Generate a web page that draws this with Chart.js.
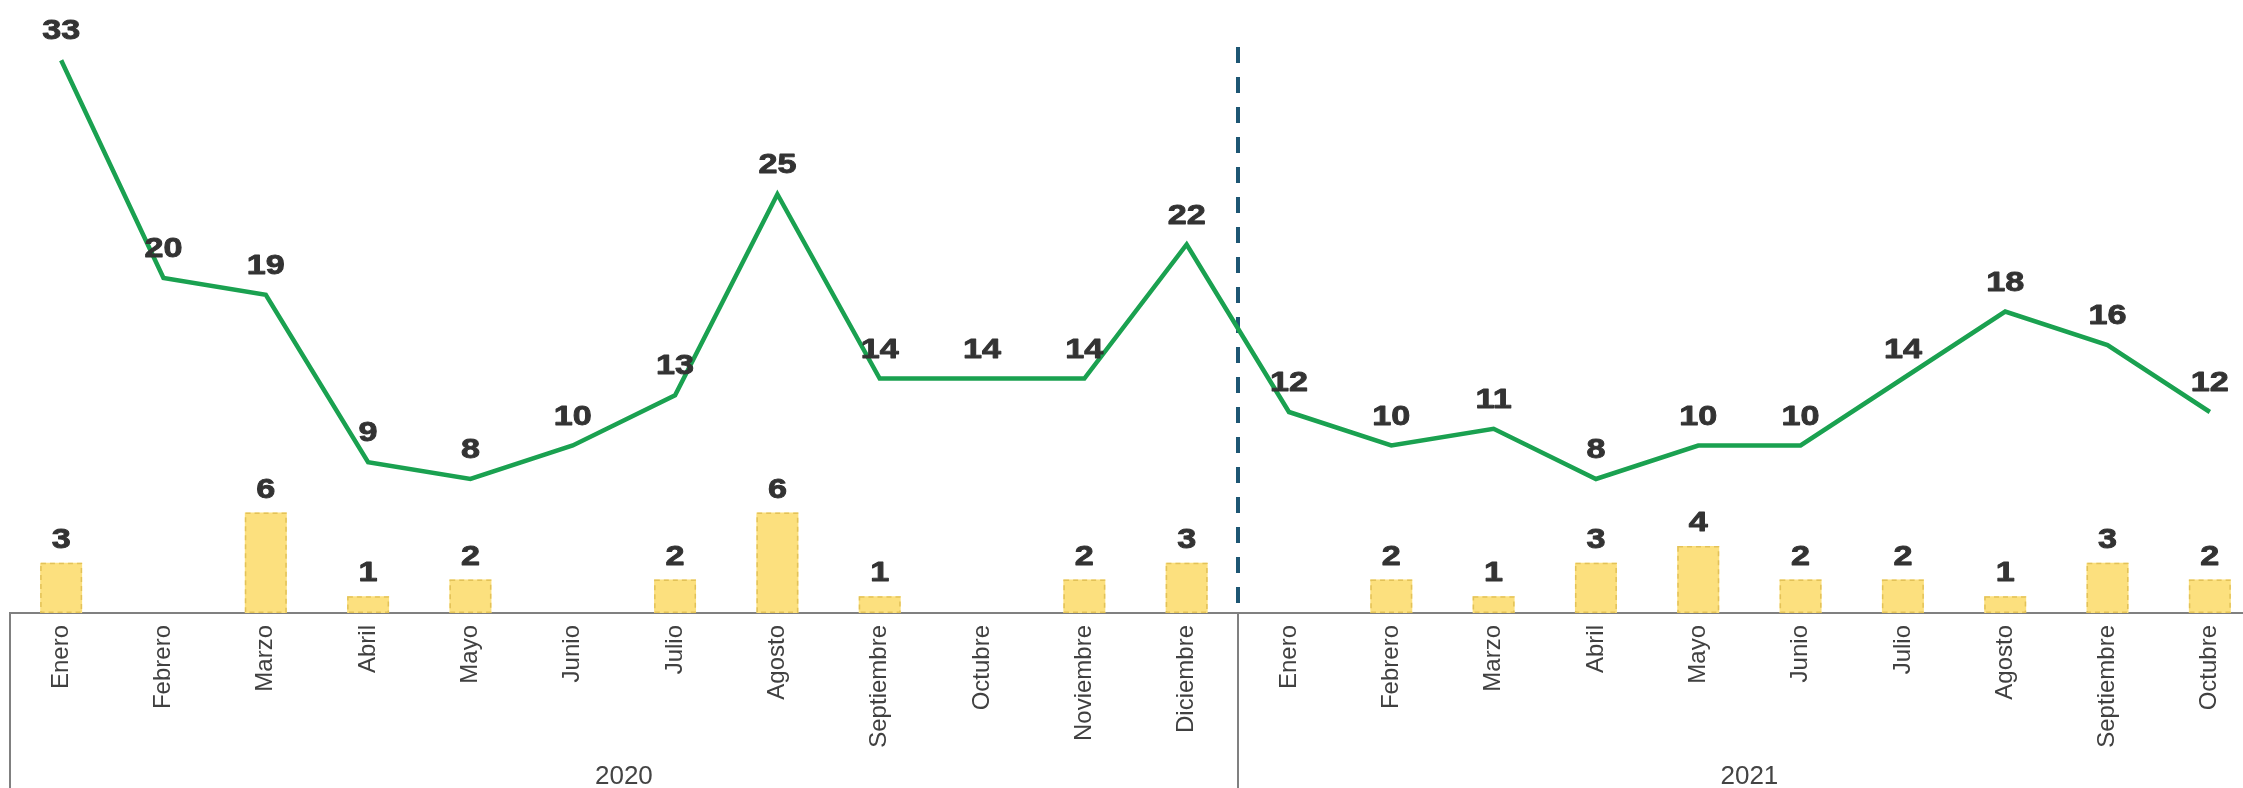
<!DOCTYPE html>
<html>
<head>
<meta charset="utf-8">
<script src="https://cdn.jsdelivr.net/npm/chart.js@4.4.1/dist/chart.umd.min.js"></script>
<style>
  html, body { margin: 0; padding: 0; background: #ffffff; overflow: hidden; width: 2243px; height: 788px; }
  canvas { display: block; }
</style>
</head>
<body>
<canvas id="c" width="2261" height="788"></canvas>
<script>
// ---- Data ----
const monthLabels = ['Enero','Febrero','Marzo','Abril','Mayo','Junio','Julio','Agosto','Septiembre','Octubre','Noviembre','Diciembre',
                     'Enero','Febrero','Marzo','Abril','Mayo','Junio','Julio','Agosto','Septiembre','Octubre'];
const years = ['2020', '2021'];
const monthsPerYear = [12, 10];
const lineValues = [33, 20, 19, 9, 8, 10, 13, 25, 14, 14, 14, 22,
                    12, 10, 11, 8, 10, 10, 14, 18, 16, 12];
const barValues = [3, null, 6, 1, 2, null, 2, 6, 1, null, 2, 3,
                   null, 2, 1, 3, 4, 2, 2, 1, 3, 2];

const FONT = '"Liberation Sans", Arial, sans-serif';

const overlayPlugin = {
  id: 'overlay',
  beforeDatasetsDraw(chart) {
    const ctx = chart.ctx;
    const x = chart.scales.x;
    const area = chart.chartArea;
    const half = (x.getPixelForValue(1) - x.getPixelForValue(0)) / 2;
    let idx = 0;
    ctx.save();
    ctx.strokeStyle = '#1d5673';
    ctx.lineWidth = 4;
    ctx.setLineDash([16, 14]);
    for (let i = 0; i < monthsPerYear.length - 1; i++) {
      idx += monthsPerYear[i];
      const bx = Math.round(x.getPixelForValue(idx) - half);
      ctx.beginPath();
      ctx.moveTo(bx, 47);
      ctx.lineTo(bx, area.bottom);
      ctx.stroke();
    }
    ctx.restore();
  },
  afterDatasetsDraw(chart) {
    const ctx = chart.ctx;
    const barMeta = chart.getDatasetMeta(0);
    ctx.save();
    ctx.strokeStyle = '#e3c258';
    ctx.lineWidth = 1.5;
    ctx.setLineDash([5, 4]);
    barMeta.data.forEach((el, i) => {
      if (barValues[i] == null) return;
      const p = el.getProps(['x', 'y', 'base', 'width'], true);
      ctx.strokeRect(p.x - p.width / 2 + 0.75, p.y + 0.75, p.width - 1.5, p.base - p.y - 1.5);
    });
    ctx.restore();

    ctx.save();
    ctx.fillStyle = '#333333';
    ctx.strokeStyle = '#333333';
    ctx.lineWidth = 0.9;
    ctx.lineJoin = 'round';
    ctx.font = 'bold 28px ' + FONT;
    ctx.textAlign = 'center';
    ctx.textBaseline = 'alphabetic';
    const drawLabel = (txt, px, py) => {
      ctx.save();
      ctx.translate(px, py);
      ctx.scale(1.22, 1);
      ctx.fillText(txt, 0, 0);
      ctx.strokeText(txt, 0, 0);
      ctx.restore();
    };
    barMeta.data.forEach((el, i) => {
      if (barValues[i] == null) return;
      const p = el.getProps(['x', 'y'], true);
      drawLabel(String(barValues[i]), p.x, p.y - 15);
    });
    const lineMeta = chart.getDatasetMeta(1);
    lineMeta.data.forEach((el, i) => {
      const p = el.getProps(['x', 'y'], true);
      drawLabel(String(lineValues[i]), p.x, p.y - 21);
    });
    ctx.restore();
  },
  afterDraw(chart) {
    const ctx = chart.ctx;
    const x = chart.scales.x;
    const area = chart.chartArea;
    const half = (x.getPixelForValue(1) - x.getPixelForValue(0)) / 2;
    ctx.save();
    ctx.strokeStyle = '#808080';
    ctx.lineWidth = 2;
    ctx.setLineDash([]);
    let idx = 0;
    const bounds = [x.getPixelForValue(0) - half];
    for (let i = 0; i < monthsPerYear.length - 1; i++) {
      idx += monthsPerYear[i];
      bounds.push(x.getPixelForValue(idx) - half);
    }
    bounds.forEach(b => {
      const bx = Math.round(b);
      ctx.beginPath();
      ctx.moveTo(bx, area.bottom);
      ctx.lineTo(bx, chart.height);
      ctx.stroke();
    });
    ctx.fillStyle = '#444444';
    ctx.font = '26px ' + FONT;
    ctx.textAlign = 'center';
    ctx.textBaseline = 'middle';
    let start = 0;
    years.forEach((yr, i) => {
      const n = monthsPerYear[i];
      const cx = (x.getPixelForValue(start) + x.getPixelForValue(start + n - 1)) / 2;
      ctx.fillText(yr, cx, 777);
      start += n;
    });
    ctx.restore();
  }
};

new Chart(document.getElementById('c'), {
  data: {
    labels: monthLabels,
    datasets: [
      {
        type: 'bar',
        data: barValues,
        backgroundColor: '#fce07e',
        borderWidth: 0,
        barPercentage: 0.41,
        categoryPercentage: 1.0,
        order: 2
      },
      {
        type: 'line',
        data: lineValues,
        borderColor: '#1aa150',
        borderWidth: 4.5,
        pointRadius: 0,
        tension: 0,
        fill: false,
        order: 1
      }
    ]
  },
  options: {
    responsive: false,
    animation: false,
    devicePixelRatio: 1,
    layout: { padding: { left: 10, right: 0, top: 10, bottom: 0 } },
    plugins: { legend: { display: false }, tooltip: { enabled: false }, title: { display: false } },
    scales: {
      x: {
        type: 'category',
        offset: true,
        grid: { display: false, drawTicks: false },
        border: { display: true, color: '#808080', width: 2 },
        ticks: {
          minRotation: 90,
          maxRotation: 90,
          autoSkip: false,
          padding: 12,
          color: '#404040',
          font: { family: FONT, size: 24 }
        },
        afterFit(scale) { scale.height = 175; }
      },
      y: {
        display: false,
        min: 0,
        max: 36
      }
    }
  },
  plugins: [overlayPlugin]
});
</script>
</body>
</html>
